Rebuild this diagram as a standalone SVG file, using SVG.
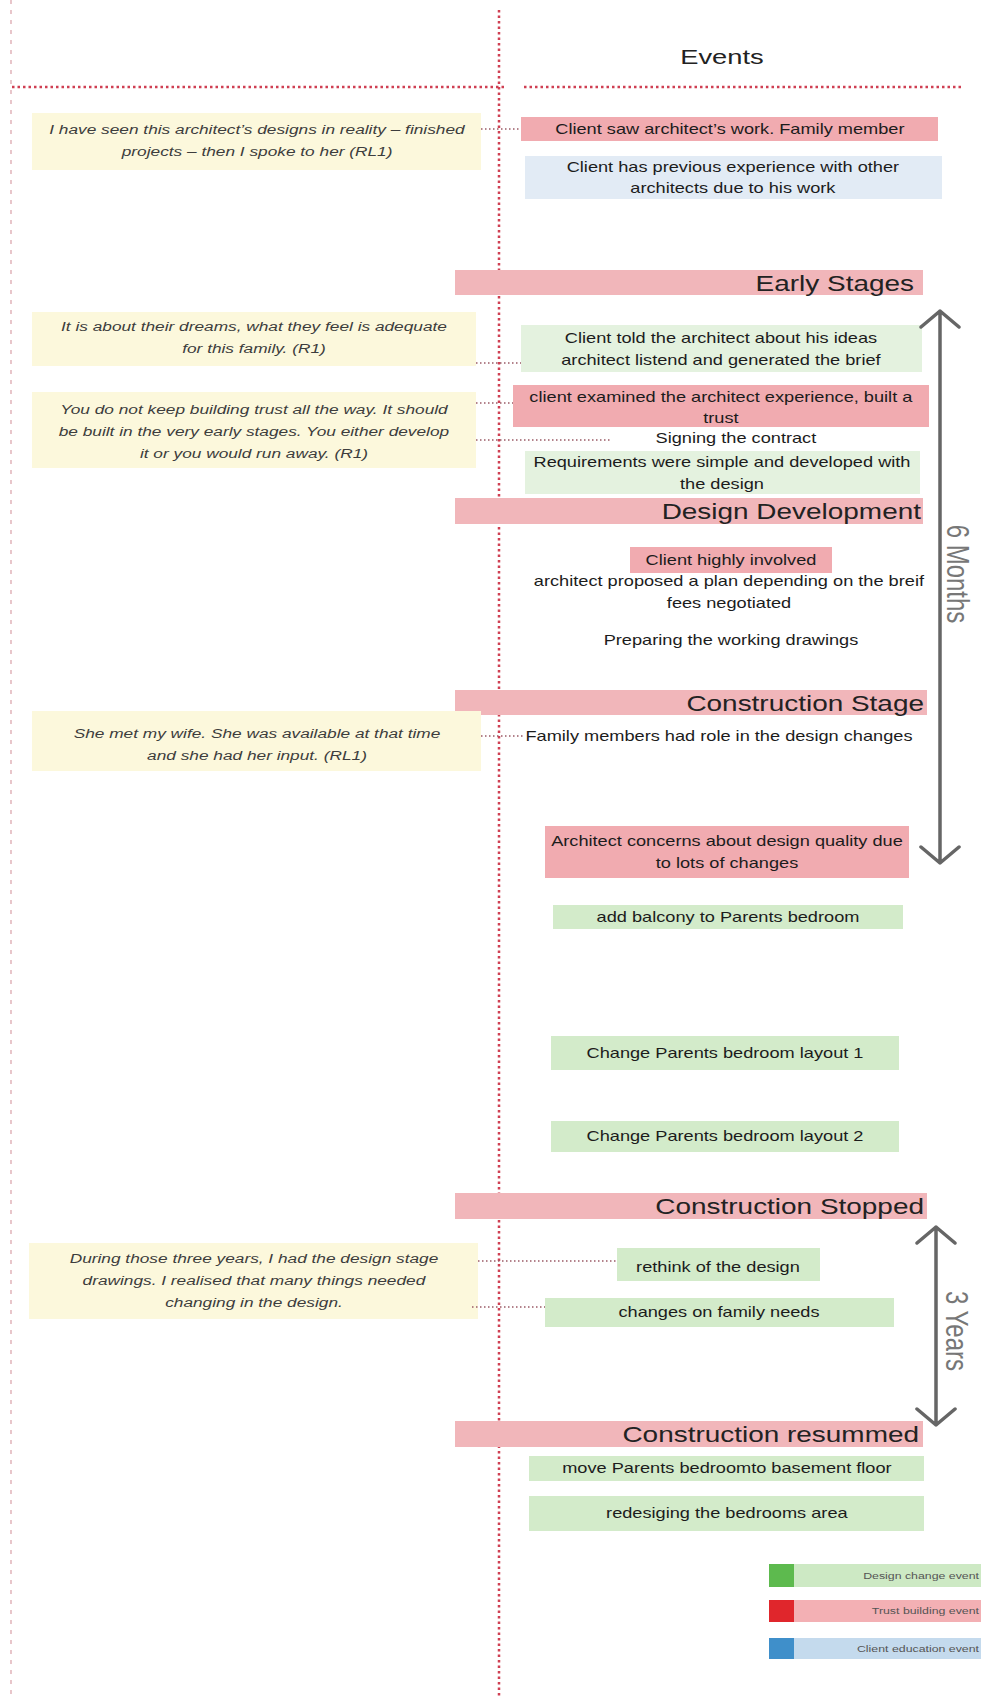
<svg xmlns="http://www.w3.org/2000/svg" width="981" height="1697" viewBox="0 0 981 1697">
  <style>
    text { font-family: "Liberation Sans", Arial, sans-serif; }
    .t, .q, .h, .ttl, .lg { transform-box: fill-box; transform-origin: center; transform: scaleX(1.3); }
    .t { font-size: 14px; fill: #1c1c1c; text-anchor: middle; }
    .q { font-size: 13.3px; font-style: italic; fill: #3d3d3d; text-anchor: middle; }
    .h { font-size: 21.5px; fill: #222; text-anchor: end; transform-origin: right center; }
    .ttl { font-size: 21px; fill: #222; text-anchor: middle; }
    .lg { font-size: 9.5px; fill: #555; text-anchor: end; transform-origin: right center; }
    .span { font-size: 24px; fill: #777; text-anchor: middle; }
    .quote { fill: #fcf8dc; }
    .red { fill: #f1abb0; }
    .bar { fill: #f1b6ba; }
    .grn { fill: #d3ebca; }
    .grnl { fill: #e4f2df; }
    .blu { fill: #e2ebf5; }
    .link { stroke: #9a5a66; stroke-width: 1.5; stroke-dasharray: 1.5 2.5; fill: none; }
    .axis { stroke: #cf3f52; stroke-width: 2.5; stroke-dasharray: 2.5 3; fill: none; }
    .edge { stroke: #d9a0a8; stroke-width: 1.2; stroke-dasharray: 4 6; fill: none; }
    .dur { stroke: #666; stroke-width: 3.5; fill: none; stroke-linecap: round; stroke-linejoin: round; }
  </style>

  <!-- frame lines -->
  <g id="frame">
    <line class="edge" x1="11" y1="0" x2="11" y2="1697"/>
    <line class="axis" x1="499" y1="10" x2="499" y2="1697"/>
    <line class="axis" x1="12" y1="87" x2="504" y2="87"/>
    <line class="axis" x1="524" y1="87" x2="962" y2="87"/>
    <text class="ttl" x="722" y="64">Events</text>
  </g>

  <!-- stage headers -->
  <g id="stage-early">
    <rect class="bar" x="455" y="270" width="468" height="25"/>
    <text class="h" x="914" y="291">Early Stages</text>
  </g>
  <g id="stage-design">
    <rect class="bar" x="455" y="498" width="468" height="26"/>
    <text class="h" x="921" y="519">Design Development</text>
  </g>
  <g id="stage-construction">
    <rect class="bar" x="455" y="690" width="472" height="25"/>
    <text class="h" x="924" y="711">Construction Stage</text>
  </g>
  <g id="stage-stopped">
    <rect class="bar" x="455" y="1193" width="472" height="26"/>
    <text class="h" x="924" y="1214">Construction Stopped</text>
  </g>
  <g id="stage-resumed">
    <rect class="bar" x="455" y="1421" width="468" height="26"/>
    <text class="h" x="919" y="1442">Construction resummed</text>
  </g>

  <!-- interview quotes -->
  <g id="quote-1">
    <rect class="quote" x="32" y="113" width="449" height="57"/>
    <text class="q" x="257" y="134">I have seen this architect’s designs in reality – finished</text>
    <text class="q" x="257" y="156">projects – then I spoke to her (RL1)</text>
  </g>
  <g id="quote-2">
    <rect class="quote" x="32" y="312" width="444" height="54"/>
    <text class="q" x="254" y="331">It is about their dreams, what they feel is adequate</text>
    <text class="q" x="254" y="353">for this family. (R1)</text>
  </g>
  <g id="quote-3">
    <rect class="quote" x="32" y="392" width="444" height="76"/>
    <text class="q" x="254" y="414">You do not keep building trust all the way. It should</text>
    <text class="q" x="254" y="436">be built in the very early stages. You either develop</text>
    <text class="q" x="254" y="458">it or you would run away. (R1)</text>
  </g>
  <g id="quote-4">
    <rect class="quote" x="32" y="711" width="449" height="60"/>
    <text class="q" x="257" y="738">She met my wife. She was available at that time</text>
    <text class="q" x="257" y="760">and she had her input. (RL1)</text>
  </g>
  <g id="quote-5">
    <rect class="quote" x="29" y="1243" width="449" height="76"/>
    <text class="q" x="254" y="1263">During those three years, I had the design stage</text>
    <text class="q" x="254" y="1285">drawings. I realised that many things needed</text>
    <text class="q" x="254" y="1307">changing in the design.</text>
  </g>

  <!-- events -->
  <g id="ev-saw-work">
    <rect class="red" x="521" y="117" width="417" height="24"/>
    <text class="t" x="730" y="134">Client saw architect’s work. Family member</text>
  </g>
  <g id="ev-experience">
    <rect class="blu" x="525" y="156" width="417" height="43"/>
    <text class="t" x="733" y="172">Client has previous experience with other</text>
    <text class="t" x="733" y="193">architects due to his work</text>
  </g>
  <g id="ev-brief">
    <rect class="grnl" x="521" y="325" width="401" height="47"/>
    <text class="t" x="721" y="343">Client told the architect about his ideas</text>
    <text class="t" x="721" y="365">architect listend and generated the brief</text>
  </g>
  <g id="ev-trust">
    <rect class="red" x="513" y="385" width="416" height="42"/>
    <text class="t" x="721" y="402">client examined the architect experience, built a</text>
    <text class="t" x="721" y="423">trust</text>
  </g>
  <g id="ev-contract">
    <text class="t" x="736" y="443">Signing the contract</text>
  </g>
  <g id="ev-requirements">
    <rect class="grnl" x="525" y="451" width="395" height="43"/>
    <text class="t" x="722" y="467">Requirements were simple and developed with</text>
    <text class="t" x="722" y="489">the design</text>
  </g>
  <g id="ev-involved">
    <rect class="red" x="630" y="547" width="202" height="26"/>
    <text class="t" x="731" y="565">Client highly involved</text>
  </g>
  <g id="ev-plan">
    <text class="t" x="729" y="586">architect proposed a plan depending on the breif</text>
    <text class="t" x="729" y="608">fees negotiated</text>
  </g>
  <g id="ev-drawings">
    <text class="t" x="731" y="645">Preparing the working drawings</text>
  </g>
  <g id="ev-family-role">
    <text class="t" x="719" y="741">Family members had role in the design changes</text>
  </g>
  <g id="ev-quality">
    <rect class="red" x="545" y="826" width="364" height="52"/>
    <text class="t" x="727" y="846">Architect concerns about design quality due</text>
    <text class="t" x="727" y="868">to lots of changes</text>
  </g>
  <g id="ev-balcony">
    <rect class="grn" x="553" y="905" width="350" height="24"/>
    <text class="t" x="728" y="922">add balcony to Parents bedroom</text>
  </g>
  <g id="ev-layout-1">
    <rect class="grn" x="551" y="1036" width="348" height="34"/>
    <text class="t" x="725" y="1058">Change Parents bedroom layout 1</text>
  </g>
  <g id="ev-layout-2">
    <rect class="grn" x="551" y="1121" width="348" height="31"/>
    <text class="t" x="725" y="1141">Change Parents bedroom layout 2</text>
  </g>
  <g id="ev-rethink">
    <rect class="grn" x="617" y="1248" width="203" height="33"/>
    <text class="t" x="718" y="1272">rethink of the design</text>
  </g>
  <g id="ev-family-needs">
    <rect class="grn" x="545" y="1298" width="349" height="29"/>
    <text class="t" x="719" y="1317">changes on family needs</text>
  </g>
  <g id="ev-basement">
    <rect class="grn" x="529" y="1456" width="395" height="25"/>
    <text class="t" x="727" y="1473">move Parents bedroomto basement floor</text>
  </g>
  <g id="ev-bedrooms">
    <rect class="grn" x="529" y="1496" width="395" height="35"/>
    <text class="t" x="727" y="1518">redesiging the bedrooms area</text>
  </g>

  <!-- duration spans -->
  <g id="span-6-months">
    <path class="dur" d="M940,311 L940,863 M921,327 L940,311 L959,327 M921,847 L940,863 L959,847"/>
    <text class="span" transform="translate(958,574) rotate(90) scale(1,1.3)" x="0" y="0" dy="0.35em">6 Months</text>
  </g>
  <g id="span-3-years">
    <path class="dur" d="M936,1227 L936,1425 M917,1243 L936,1227 L955,1243 M917,1409 L936,1425 L955,1409"/>
    <text class="span" transform="translate(957,1331) rotate(90) scale(1,1.3)" x="0" y="0" dy="0.35em" font-size="23">3 Years</text>
  </g>

  <!-- quote-to-event links -->
  <g id="connectors">
    <line class="link" x1="481" y1="129" x2="521" y2="129"/>
    <line class="link" x1="476" y1="363" x2="521" y2="363"/>
    <line class="link" x1="476" y1="403" x2="513" y2="403"/>
    <line class="link" x1="476" y1="440" x2="612" y2="440"/>
    <line class="link" x1="481" y1="736" x2="525" y2="736"/>
    <line class="link" x1="478" y1="1261" x2="617" y2="1261"/>
    <line class="link" x1="472" y1="1307" x2="545" y2="1307"/>
  </g>

  <!-- legend -->
  <g id="legend">
    <rect x="794" y="1564" width="187" height="23" fill="#cde9c4"/>
    <rect x="769" y="1564" width="25" height="23" fill="#5dba4e"/>
    <text class="lg" x="979" y="1579">Design change event</text>
    <rect x="794" y="1600" width="187" height="22" fill="#f3b0b4"/>
    <rect x="769" y="1600" width="25" height="22" fill="#e0262c"/>
    <text class="lg" x="979" y="1614">Trust building event</text>
    <rect x="794" y="1638" width="187" height="21" fill="#c4daed"/>
    <rect x="769" y="1638" width="25" height="21" fill="#3f8fca"/>
    <text class="lg" x="979" y="1652">Client education event</text>
  </g>
</svg>
